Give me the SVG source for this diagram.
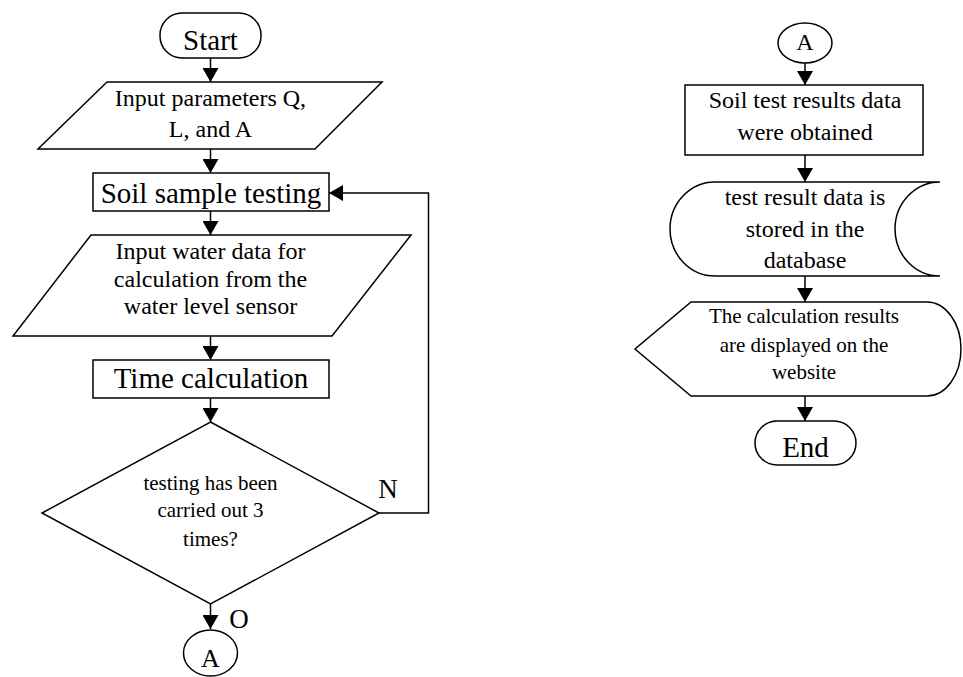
<svg xmlns="http://www.w3.org/2000/svg" width="963" height="677" viewBox="0 0 963 677">
<defs>
<style>
.s{fill:#fff;stroke:#000;stroke-width:1.5}
.c{fill:none;stroke:#000;stroke-width:1.5}
text{font-family:"Liberation Serif","Times New Roman",serif;fill:#000;text-anchor:middle}
.L{font-size:29px}
.M{font-size:24px}
.S{font-size:21px}
</style>
<marker id="ah" markerUnits="userSpaceOnUse" viewBox="0 0 14 16" markerWidth="14" markerHeight="16" refX="14" refY="8" orient="auto">
<path d="M0,0 L14,8 L0,16 z" fill="#000"/>
</marker>
</defs>
<rect width="963" height="677" fill="#fff"/>
<g id="connectors">
<line class="c" x1="210.5" y1="58" x2="210.5" y2="82" marker-end="url(#ah)"/>
<line class="c" x1="210.5" y1="149" x2="210.5" y2="173" marker-end="url(#ah)"/>
<line class="c" x1="210.5" y1="211" x2="210.5" y2="235" marker-end="url(#ah)"/>
<line class="c" x1="210.5" y1="336" x2="210.5" y2="360" marker-end="url(#ah)"/>
<line class="c" x1="210.5" y1="398" x2="210.5" y2="422" marker-end="url(#ah)"/>
<line class="c" x1="210.5" y1="604" x2="210.5" y2="629" marker-end="url(#ah)"/>
<polyline class="c" points="379,513 428.5,513 428.5,193 329,193" marker-end="url(#ah)"/>
<line class="c" x1="805" y1="63" x2="805" y2="85" marker-end="url(#ah)"/>
<line class="c" x1="805" y1="155" x2="805" y2="182" marker-end="url(#ah)"/>
<line class="c" x1="805" y1="276" x2="805" y2="302" marker-end="url(#ah)"/>
<line class="c" x1="805" y1="396" x2="805" y2="421" marker-end="url(#ah)"/>
<text class="L" x="388" y="498" style="font-size:27px">N</text>
<text class="L" x="239" y="628" style="font-size:27px">O</text>
</g>
<g id="start">
<rect class="s" x="160" y="13" width="101" height="45" rx="22"/>
<text class="L" x="210.5" y="50">Start</text>
</g>
<g id="input-params">
<polygon class="s" points="107,82 382,82 315,149 38,149"/>
<text class="M" x="210.5" y="106">Input parameters Q,</text>
<text class="M" x="210.5" y="137">L, and A</text>
</g>
<g id="soil-testing">
<rect class="s" x="93" y="173" width="236" height="38"/>
<text class="L" x="211" y="203">Soil sample testing</text>
</g>
<g id="input-water">
<polygon class="s" points="91,235 411,235 332,336 13,336"/>
<text class="M" x="210.5" y="259">Input water data for</text>
<text class="M" x="210.5" y="287">calculation from the</text>
<text class="M" x="210.5" y="314">water level sensor</text>
</g>
<g id="time-calc">
<rect class="s" x="93" y="360" width="236" height="38"/>
<text class="L" x="211" y="388">Time calculation</text>
</g>
<g id="decision">
<polygon class="s" points="210.5,422 379,513 210.5,604 42,513"/>
<text class="S" x="210.5" y="490">testing has been</text>
<text class="S" x="210.5" y="517">carried out 3</text>
<text class="S" x="210.5" y="546">times?</text>
</g>
<g id="connector-a-out">
<ellipse class="s" cx="210.5" cy="653" rx="27" ry="23"/>
<text class="M" x="210.5" y="667" style="font-size:26px">A</text>
</g>
<g id="connector-a-in">
<ellipse class="s" cx="805" cy="43" rx="27" ry="20"/>
<text class="M" x="805" y="50">A</text>
</g>
<g id="results-obtained">
<rect class="s" x="685" y="85" width="238" height="70"/>
<text class="M" x="805" y="108">Soil test results data</text>
<text class="M" x="805" y="140">were obtained</text>
</g>
<g id="stored-data">
<path class="s" d="M715,182 L940,182 A45,47 0 0 0 940,276 L715,276 A45,47 0 0 1 715,182 Z"/>
<text class="M" x="805" y="205">test result data is</text>
<text class="M" x="805" y="237">stored in the</text>
<text class="M" x="805" y="268">database</text>
</g>
<g id="display">
<path class="s" d="M691,302 L927,302 A34,47 0 0 1 927,396 L691,396 L635,349 Z"/>
<text class="S" x="804" y="323">The calculation results</text>
<text class="S" x="804" y="352">are displayed on the</text>
<text class="S" x="804" y="379">website</text>
</g>
<g id="end">
<rect class="s" x="755" y="421" width="101" height="44" rx="22"/>
<text class="L" x="805.5" y="457">End</text>
</g>
</svg>
